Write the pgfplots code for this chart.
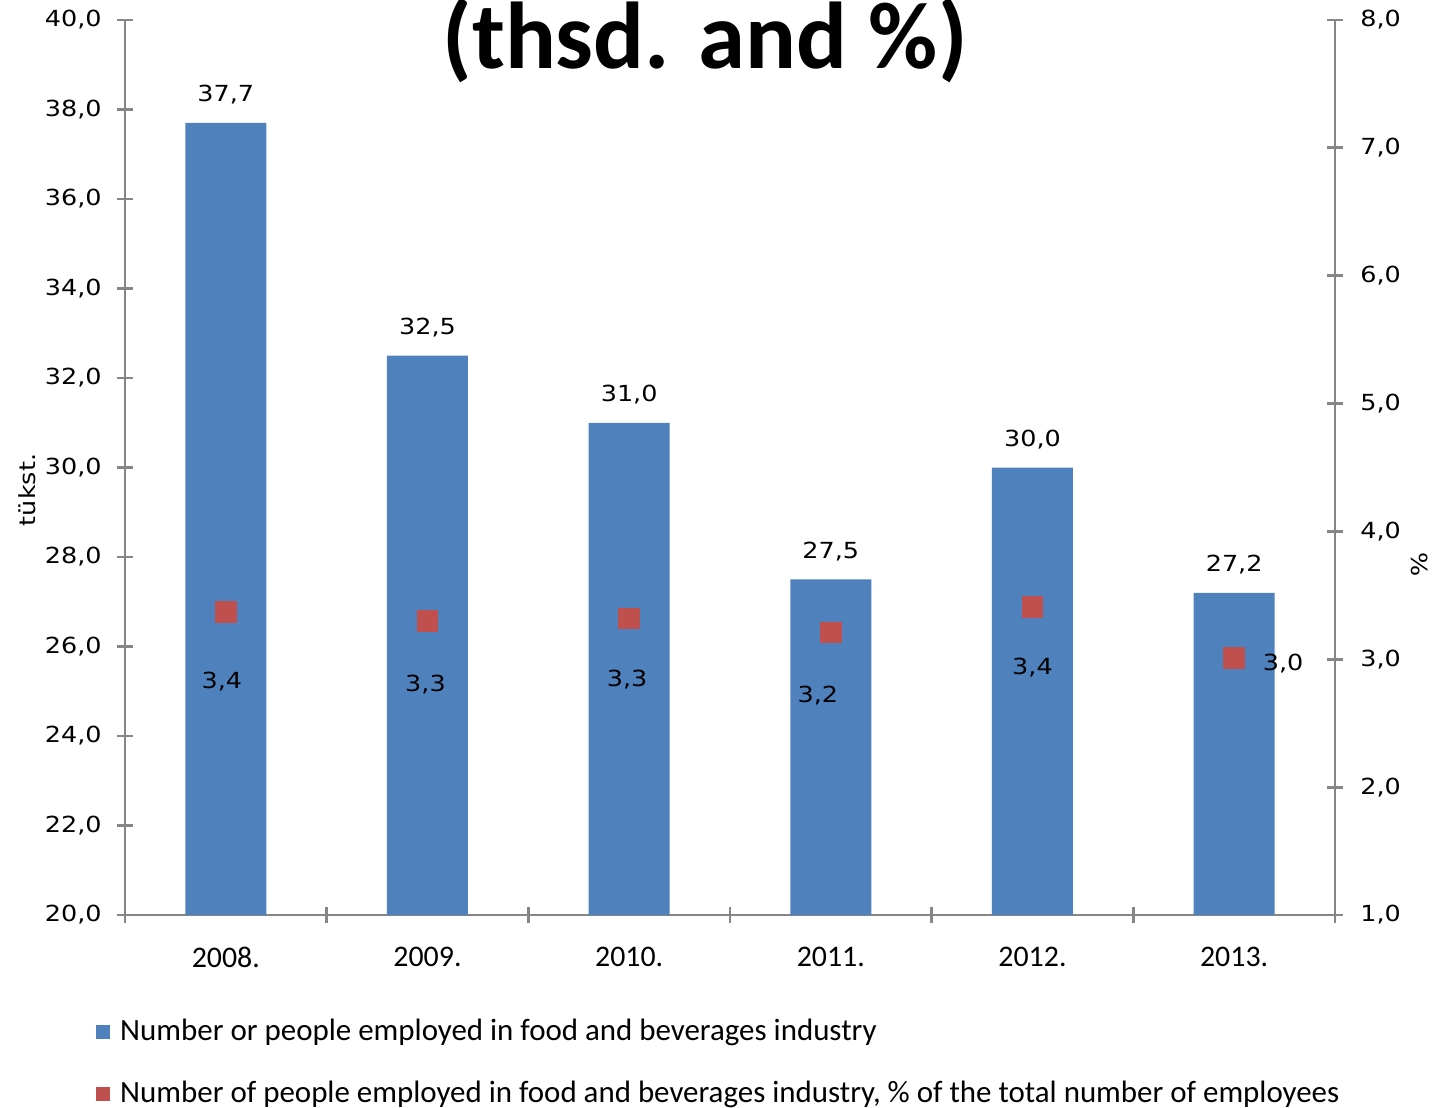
\documentclass[border=0pt]{standalone}
\usepackage{pgfplots}
\pgfplotsset{compat=1.18}
\usepackage{fontspec}
\setmainfont{Carlito}
\newfontfamily\tickfont[FakeStretch=1.15]{DejaVu Sans}
\definecolor{barblue}{HTML}{4F81BD}
\definecolor{markred}{HTML}{C0504D}
\definecolor{axisgray}{HTML}{868686}
\newcommand{\smallfont}{\tickfont\fontsize{6.3}{7.5}\selectfont}

\pgfplotsset{
  common/.style={
    scale only axis, width=12.10cm, height=8.95cm,
    xmin=-0.5, xmax=5.5,
    axis line style={axisgray, line width=0.8pt, -},
    tick style={axisgray, line width=0.8pt},
    major tick length=0.16cm, minor tick length=0.16cm,
    tick align=center,
    /pgf/number format/assume math mode=true,
    y tick label style={font=\smallfont, text=black},
    yticklabel={\pgfmathprintnumber[fixed,fixed zerofill,precision=1,use comma]{\tick}},
  },
}

% x, share in %, label shift (cm)
\pgfplotstableread{
x  y     dx     dy
0  3.37  -0.04  -0.77
1  3.30  -0.02  -0.71
2  3.32  -0.02  -0.68
3  3.21  -0.13  -0.70
4  3.41   0.00  -0.68
5  3.01   0.49  -0.12
}\sharetable

\begin{document}
\begin{tikzpicture}
\begin{axis}[
  common,
  ymin=20, ymax=40,
  axis y line*=left, axis x line*=bottom,
  ytick={20,22,...,40},
  y tick label style={xshift=-0.03cm},
  xtick={0,...,5},
  xticklabels={2008.,2009.,2010.,2011.,2012.,2013.},
  major x tick style={draw=none},
  minor xtick={-0.5,0.5,...,5.5},
  x tick label style={font=\fontsize{8.5}{10}\selectfont, text=black, yshift=-0.12cm},
]
\addplot[ybar, bar width=0.81cm, fill=barblue, draw=none,
  nodes near coords,
  nodes near coords style={font=\smallfont, text=black, anchor=base, yshift=0.21cm,
    /pgf/number format/.cd, fixed, fixed zerofill, precision=1, use comma}]
  coordinates {(0,37.7)(1,32.5)(2,31.0)(3,27.5)(4,30.0)(5,27.2)};
\end{axis}
\begin{axis}[
  common,
  ymin=1, ymax=8,
  axis y line*=right, axis x line=none,
  ytick={1,...,8},
  y tick label style={xshift=0.05cm},
  legend image code/.code={\fill[#1, draw=none] (0cm,-0.07cm) rectangle (0.14cm,0.07cm);},
  legend style={at={(0,0)}, anchor=north west, xshift=-0.40cm, yshift=-0.89cm,
    draw=none, fill=none, font=\fontsize{8.8}{10}\selectfont,
    row sep=6.0pt, legend cell align=left,
    nodes={inner xsep=0.1cm}},
]
\addlegendimage{fill=barblue}
\addlegendimage{fill=markred}
\addplot[only marks, mark=square*, mark size=2.85pt, color=markred,
  visualization depends on={\thisrow{dx} \as \dx},
  visualization depends on={\thisrow{dy} \as \dy},
  nodes near coords,
  nodes near coords style={font=\smallfont, text=black, anchor=base,
    xshift=\dx cm, yshift=\dy cm,
    /pgf/number format/.cd, fixed, fixed zerofill, precision=1, use comma}]
  table[x=x, y=y, meta=y] {\sharetable};
\legend{Number or people employed in food and beverages industry,
  {Number of people employed in food and beverages industry, \% of the total number of employees}}
\end{axis}
\node[font=\fontsize{27}{32}\selectfont\bfseries, anchor=base] at (5.80cm,8.47cm) {(thsd. and \%)};
\node[font=\smallfont, rotate=90] at (-0.98cm,4.25cm) {tükst.};
\node[font=\smallfont, rotate=-90] at (12.95cm,3.50cm) {\%};
\pgfresetboundingbox
\path[use as bounding box] (-1.25cm,-1.92cm) rectangle (13.11cm,9.15cm);
\end{tikzpicture}
\end{document}
